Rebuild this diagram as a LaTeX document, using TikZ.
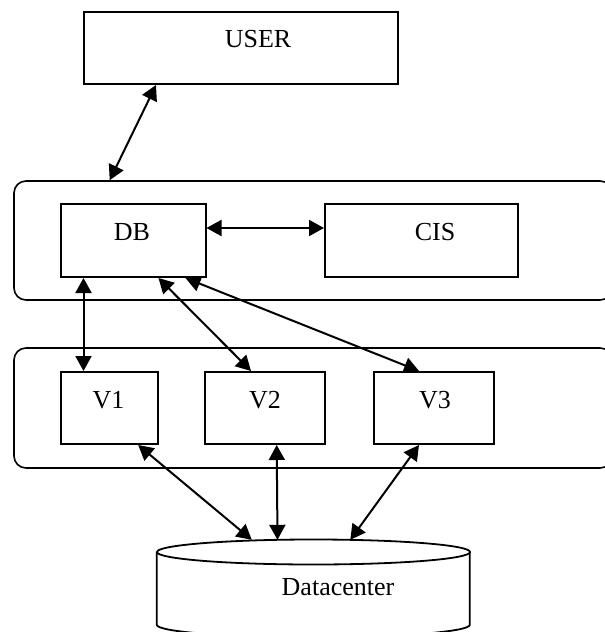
\documentclass[tikz,border=0pt]{standalone}
\usepackage{fontspec}
\setmainfont{Liberation Serif}
\usetikzlibrary{arrows.meta}
\begin{document}
\begin{tikzpicture}[x=1pt,y=-1pt,
  box/.style={draw, line width=2pt, fill=white, inner sep=0pt},
  panel/.style={draw, line width=1.6pt, rounded corners=12pt, inner sep=0pt},
  lbl/.style={font=\fontsize{26}{30}\selectfont, inner sep=0pt},
  arr/.style={line width=2pt, {Triangle[length=15pt,width=16pt]}-{Triangle[length=15pt,width=16pt]}}]
\useasboundingbox (0,0) rectangle (605,632);

% top-level user box
\node[box, minimum width=314pt, minimum height=72pt] (user) at (241,48) {};
\node[lbl] (userlbl) at (258,39) {USER};

% upper layer: DB and CIS
\node[panel, minimum width=598pt, minimum height=119pt] (upper) at (313,240.5) {};
\node[box, minimum width=145pt, minimum height=73pt] (db) at (133,240.5) {};
\node[box, minimum width=193pt, minimum height=73pt] (cis) at (421.5,240.5) {};
\node[lbl] (dblbl) at (132,232) {DB};
\node[lbl] (cislbl) at (435,232) {CIS};

% lower layer: virtual machines
\node[panel, minimum width=598pt, minimum height=120pt] (lower) at (313,408) {};
\node[box, minimum width=97pt, minimum height=72pt] (v1) at (109,408) {};
\node[box, minimum width=120pt, minimum height=72pt] (v2) at (265,408) {};
\node[box, minimum width=120pt, minimum height=72pt] (v3) at (434,408) {};
\node[lbl] (v1lbl) at (108.6,400) {V1};
\node[lbl] (v2lbl) at (265,400) {V2};
\node[lbl] (v3lbl) at (435,400) {V3};

% datacenter cylinder
\node[inner sep=0pt, minimum width=313pt, minimum height=92pt] (dc) at (313.5,586) {};
\draw[line width=1.8pt, fill=white] (dc.north west) ++(0,12) -- ++(0,73)
  arc[start angle=180, end angle=360, x radius=156.5pt, y radius=12.5pt]
  -- ++(0,-73);
\draw[line width=1.8pt, fill=white] (313.5,552) ellipse[x radius=156.5pt, y radius=12.5pt];
\node[lbl] (dclbl) at (338,587) {Datacenter};

% connectors
\draw[arr] ([xshift=73pt]user.south west) -- ([xshift=96.5pt]upper.north west);
\draw[arr] ([yshift=12.5pt]db.east) -- ([yshift=12.5pt]cis.west);
\draw[arr] ([xshift=24pt]db.south west) -- ([xshift=24pt]v1.north west);
\draw[arr] ([xshift=99pt]db.south west) -- ([xshift=47pt]v2.north west);
\draw[arr] ([xshift=126pt]db.south west) -- ([xshift=46pt]v3.north west);
\draw[arr] ([xshift=78.7pt]v1.south west) -- ([xshift=95pt]dc.north west);
\draw[arr] ([xshift=72.7pt]v2.south west) -- ([xshift=120.7pt]dc.north west);
\draw[arr] ([xshift=46pt]v3.south west) -- ([xshift=193.5pt]dc.north west);
\end{tikzpicture}
\end{document}
